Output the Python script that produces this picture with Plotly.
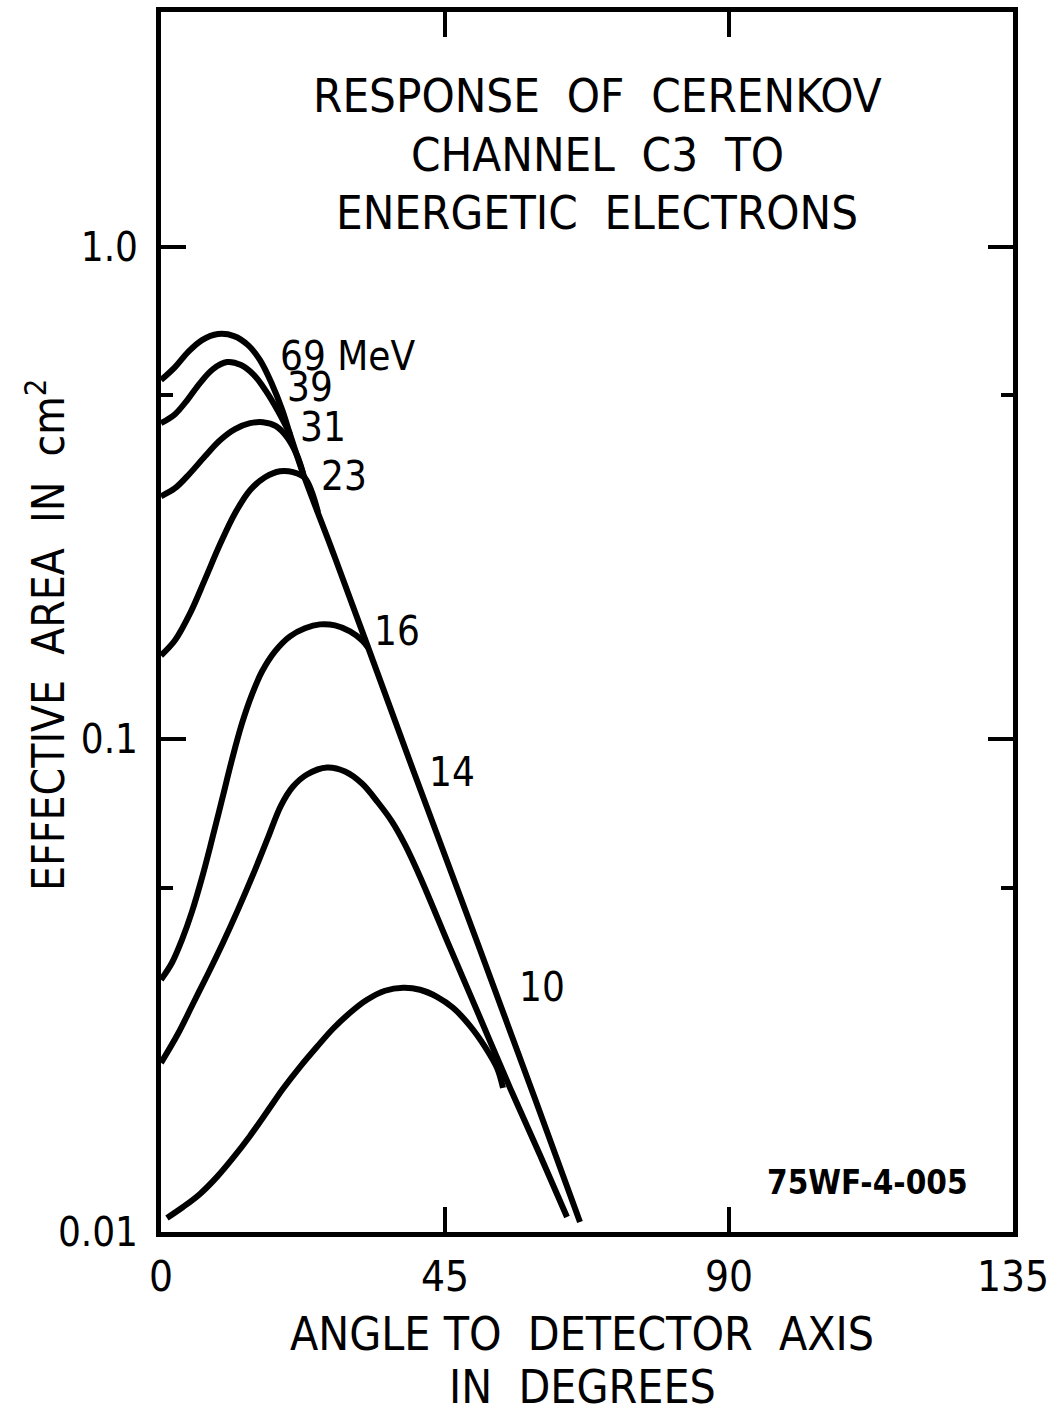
import math
import plotly.graph_objects as go

# ---- data (angle in degrees, effective area in cm^2) ----
mev69_x = [0, 2.22, 4.28, 6.50, 9.03, 11.57, 13.79, 15.69, 17.59, 19.17, 20.44, 22.50, 27.25, 32.64, 40.09, 50.55, 59.26, 66.39]
mev69_y = [0.5367, 0.5702, 0.6118, 0.6471, 0.6656, 0.6594, 0.6321, 0.5892, 0.5266, 0.4685, 0.4168, 0.3472, 0.2399, 0.1560, 0.08567, 0.03743, 0.01864, 0.01048]

mev39_x = [0, 2.22, 4.28, 6.18, 8.24, 10.46, 12.68, 14.74, 16.64, 18.54, 20.44]
mev39_y = [0.4388, 0.4577, 0.4911, 0.5292, 0.5649, 0.5838, 0.5757, 0.5493, 0.5096, 0.4642, 0.4168]

mev31_x = [0, 2.22, 4.60, 6.97, 9.35, 11.73, 14.10, 16.16, 18.22, 19.97, 21.55, 22.50]
mev31_y = [0.3118, 0.3237, 0.3472, 0.3759, 0.4051, 0.4267, 0.4388, 0.4408, 0.4327, 0.4109, 0.3776, 0.3472]

mev23_x = [0, 2.22, 4.60, 6.97, 9.35, 11.73, 14.10, 16.48, 18.86, 20.92, 22.82, 24.88]
mev23_y = [0.1481, 0.1590, 0.1803, 0.2114, 0.2490, 0.2880, 0.3207, 0.3408, 0.3505, 0.3489, 0.3392, 0.2893]

mev16_x = [0, 1.74, 3.33, 4.91, 6.50, 8.08, 9.67, 11.25, 12.83, 14.42, 16.00, 18.06, 20.44, 22.82, 25.19, 27.57, 29.95, 31.85, 32.80]
mev16_y = [0.03252, 0.03521, 0.03923, 0.04472, 0.05242, 0.06262, 0.07551, 0.09106, 0.1078, 0.1235, 0.1374, 0.1510, 0.1620, 0.1682, 0.1713, 0.1705, 0.1658, 0.1590, 0.1538]

mev14_x = [0, 2.69, 5.07, 7.45, 9.82, 12.20, 14.58, 16.95, 19.01, 20.92, 23.13, 26.30, 29.16, 31.85, 34.38, 36.60, 38.66, 41.04, 45.79, 50.55, 55.30, 60.05, 64.33]
mev14_y = [0.02205, 0.02526, 0.02907, 0.03345, 0.03867, 0.04514, 0.05316, 0.06321, 0.07344, 0.08026, 0.08491, 0.08772, 0.0861, 0.08139, 0.07448, 0.06813, 0.06118, 0.05266, 0.03778, 0.02723, 0.01962, 0.01434, 0.01073]

mev10_x = [0.95, 3.49, 6.18, 8.87, 11.41, 14.10, 16.80, 19.33, 22.03, 24.72, 27.25, 29.95, 32.64, 35.49, 38.35, 41.04, 43.73, 46.27, 48.96, 51.34, 53.24, 54.19]
mev10_y = [0.01068, 0.01124, 0.01195, 0.01294, 0.01414, 0.01567, 0.01754, 0.01953, 0.02164, 0.02377, 0.02586, 0.02787, 0.02961, 0.03089, 0.03132, 0.03104, 0.03003, 0.02853, 0.02622, 0.02377, 0.02154, 0.01962]

series = [mev69_x, mev39_x, mev31_x, mev23_x, mev16_x, mev14_x, mev10_x]
series_y = [mev69_y, mev39_y, mev31_y, mev23_y, mev16_y, mev14_y, mev10_y]

curve_labels = ["69 MeV", "39", "31", "23", "16", "14", "10"]
label_x = [29.5, 23.6, 25.6, 29.0, 37.4, 46.1, 60.4]
label_y = [0.600, 0.520, 0.4305, 0.3424, 0.1658, 0.0861, 0.0315]

x_tickvals = [0, 45, 90, 135]
x_ticktext = ["0", "45", "90", "135"]
y_tickvals = [0.01, 0.1, 1.0]
y_ticktext = ["0.01", "0.1", "1.0"]
y_minor = [0.05, 0.5]

FONT = "DejaVu Sans Condensed, DejaVu Sans, sans-serif"

fig = go.Figure()
for xs, ys in zip(series, series_y):
    fig.add_trace(go.Scatter(x=xs, y=ys, mode="lines",
                             line=dict(color="black", width=6, shape="spline", smoothing=1.0),
                             showlegend=False, hoverinfo="skip"))

for t, lx, ly in zip(curve_labels, label_x, label_y):
    fig.add_annotation(x=lx, y=math.log10(ly), text=t, showarrow=False,
                       font=dict(family=FONT, size=40, color="black"),
                       xanchor="center", yanchor="middle")

fig.add_annotation(x=112.0, y=math.log10(0.01259), text="<b>75WF-4-005</b>", showarrow=False,
                   font=dict(family=FONT, size=33, color="black"), xanchor="center", yanchor="middle")

# title lines
title_lines = ["RESPONSE  OF  CERENKOV", "CHANNEL  C3  TO", "ENERGETIC  ELECTRONS"]
title_py = [95, 154, 213]
for t, py in zip(title_lines, title_py):
    fig.add_annotation(xref="paper", yref="paper", x=(597 - 161) / 852, y=(1232 - py) / 1220,
                       text=t, showarrow=False, xanchor="center", yanchor="middle",
                       font=dict(family=FONT, size=47, color="black"))

# x axis title (two lines)
for t, py in zip(["ANGLE TO  DETECTOR  AXIS", "IN  DEGREES"], [1334, 1387]):
    fig.add_annotation(xref="paper", yref="paper", x=(582 - 161) / 852, y=(1232 - py) / 1220,
                       text=t, showarrow=False, xanchor="center", yanchor="middle",
                       font=dict(family=FONT, size=46, color="black"))

# y axis title
fig.add_annotation(xref="paper", yref="paper", x=(45 - 161) / 852, y=(1232 - 635) / 1220,
                   text="EFFECTIVE  AREA  IN  cm<sup>2</sup>", showarrow=False, textangle=-90,
                   xanchor="center", yanchor="middle",
                   font=dict(family=FONT, size=44, color="black"))

fig.update_xaxes(range=[0, 135], tickmode="array", tickvals=x_tickvals, ticktext=x_ticktext,
                 ticks="inside", ticklen=25, tickwidth=4, tickcolor="black",
                 showline=True, linewidth=5, linecolor="black", mirror="allticks",
                 showgrid=False, zeroline=False, ticklabelstandoff=4, ticklabeloverflow="allow",
                 automargin=False,
                 tickfont=dict(family=FONT, size=42, color="black"))
fig.update_yaxes(type="log", range=[-2, math.log10(3)], tickmode="array",
                 tickvals=y_tickvals, ticktext=y_ticktext,
                 ticks="inside", ticklen=25, tickwidth=4, tickcolor="black",
                 minor=dict(tickmode="array", tickvals=y_minor, ticks="inside", ticklen=12,
                            tickwidth=4, tickcolor="black", showgrid=False),
                 showline=True, linewidth=5, linecolor="black", mirror="allticks",
                 showgrid=False, zeroline=False, ticklabelstandoff=10, ticklabeloverflow="allow",
                 automargin=False,
                 tickfont=dict(family=FONT, size=40, color="black"))

fig.update_layout(width=1051, height=1415, margin=dict(l=161, r=38, t=12, b=183),
                  paper_bgcolor="white", plot_bgcolor="white", showlegend=False)

fig.write_html("out.html")
